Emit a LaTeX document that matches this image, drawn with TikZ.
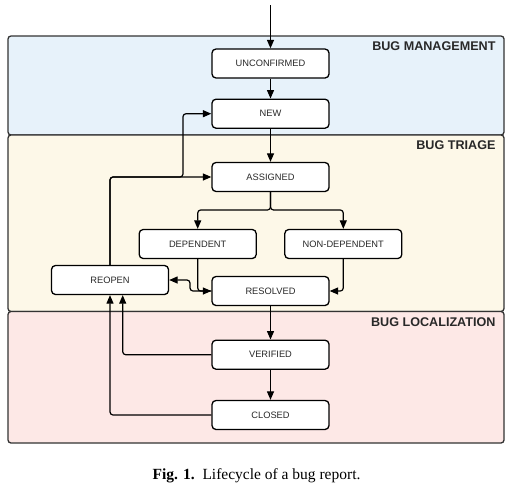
\documentclass[tikz,border=0pt]{standalone}
\usepackage{fontspec}
\setmainfont{Liberation Sans}
\newfontfamily\capfont{Liberation Serif}
\usetikzlibrary{arrows.meta}
\definecolor{mgmt}{RGB}{231,242,250}
\definecolor{triage}{RGB}{253,248,232}
\definecolor{loc}{RGB}{253,232,230}
\definecolor{txt}{RGB}{40,40,40}
\begin{document}
\begin{tikzpicture}[x=1pt,y=-1pt,
 state/.style={draw=black, line width=1.3pt, rounded corners=4pt, fill=white, minimum width=117pt, minimum height=29pt, inner sep=0pt, text=txt, font=\fontsize{9.3}{10}\selectfont},
 panel/.style={draw=black!80, line width=1.3pt, rounded corners=3pt},
 hdr/.style={anchor=east, text=txt, font=\fontsize{12.6}{14}\selectfont\bfseries},
 flow/.style={line width=1.2pt, -{Triangle[length=8.5pt,width=7pt]}, rounded corners=3pt},
]
\useasboundingbox (0,0) rectangle (511,490);
\fill[white] (0,0) rectangle (511,490);
\draw[panel, fill=mgmt] (8,36) rectangle (504,135);
\draw[panel, fill=triage] (8,135) rectangle (504,311.5);
\draw[panel, fill=loc] (8,311.5) rectangle (504,443);
\node[hdr] (hm) at (499,46) {BUG MANAGEMENT};
\node[hdr] (ht) at (499,145) {BUG TRIAGE};
\node[hdr] (hl) at (499,322) {BUG LOCALIZATION};

\node[state] (unc) at (270.5,63.5) {UNCONFIRMED};
\node[state] (new) at (270.5,113.7) {NEW};
\node[state] (asg) at (270.5,177) {ASSIGNED};
\node[state] (dep) at (197.7,244) {DEPENDENT};
\node[state] (ndep) at (343.3,244) {NON-DEPENDENT};
\node[state] (reo) at (110,280) {REOPEN};
\node[state] (res) at (270.5,291) {RESOLVED};
\node[state] (ver) at (270.5,354.7) {VERIFIED};
\node[state] (clo) at (270.5,415) {CLOSED};

\coordinate (start) at (270.5,5);
\draw[flow] (start) -- (unc.north);
\draw[flow] (unc) -- (new);
\draw[flow] (new) -- (asg);
\draw[flow] (asg.south) -- (270.5,210) -| (dep.north);
\draw[flow] (asg.south) -- (270.5,210) -| (ndep.north);
\draw[flow] (dep.south) |- (res.west);
\draw[flow] (ndep.south) |- (res.east);
\draw[flow] (res.west) -- (190,291) -- (190,280) -- (reo.east);
\draw[flow] (reo.north) |- (asg.west);
\draw[flow] (reo.north) |- (183,177) |- (new.west);
\draw[flow] (res) -- (ver);
\draw[flow] (ver) -- (clo);
\draw[flow] (ver.west) -| ([xshift=12.7pt]reo.south);
\draw[flow] (clo.west) -| (reo.south);

\node[font=\capfont\fontsize{15.5}{17}\selectfont] (cap) at (256.5,476) {\textbf{Fig. 1.}\ \ Lifecycle of a bug report.};
\end{tikzpicture}
\end{document}
